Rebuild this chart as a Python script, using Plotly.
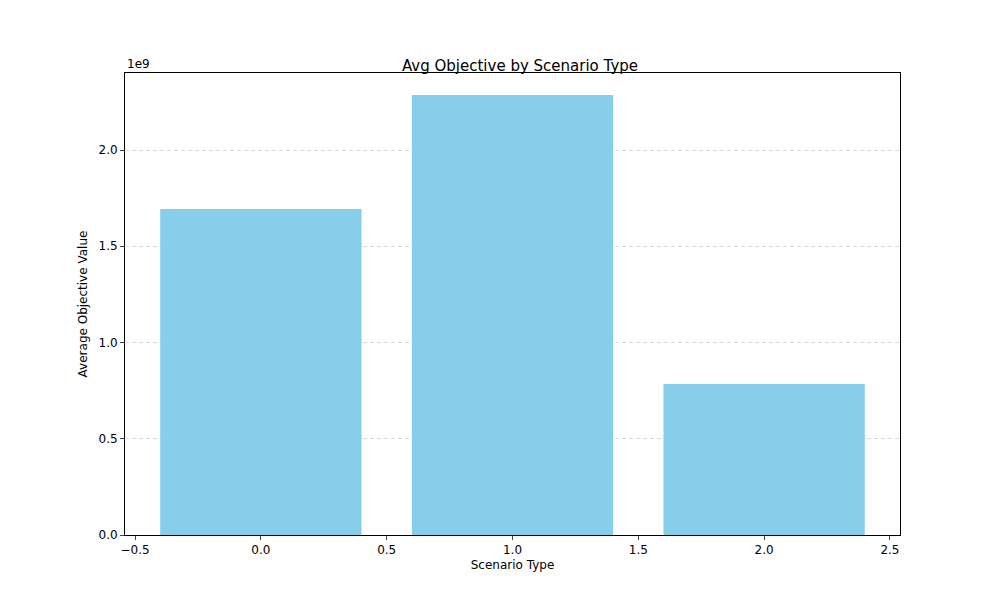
import plotly.graph_objects as go

scenario_types = [0, 1, 2]
avg_objective = [1.694e9, 2.286e9, 0.784e9]
y_ticks = [0, 0.5e9, 1.0e9, 1.5e9, 2.0e9]
y_tick_labels = ["0.0", "0.5", "1.0", "1.5", "2.0"]
x_ticks = [-0.5, 0, 0.5, 1, 1.5, 2, 2.5]
x_tick_labels = ["−0.5", "0.0", "0.5", "1.0", "1.5", "2.0", "2.5"]

fig = go.Figure()
fig.add_trace(go.Bar(x=scenario_types, y=avg_objective, width=0.8,
                     marker=dict(color="skyblue", line=dict(width=0))))

fig.update_layout(
    width=1000, height=600,
    margin=dict(l=117, r=108, t=65, b=73),
    plot_bgcolor="white", paper_bgcolor="white",
    font=dict(family="DejaVu Sans", size=12, color="black"),
    title=dict(text="Avg Objective by Scenario Type", x=0.512, xanchor="center",
               y=1 - 58 / 600, yanchor="middle", font=dict(size=15)),
    showlegend=False,
    xaxis=dict(range=[-0.54, 2.54], tickvals=x_ticks, ticktext=x_tick_labels,
               showgrid=False, zeroline=False, showline=True, linecolor="black",
               mirror=True, ticks="outside", ticklen=4,
               title=dict(text="Scenario Type", standoff=4, font=dict(size=12))),
    yaxis=dict(range=[0, 2.4e9], tickvals=y_ticks, ticktext=y_tick_labels,
               showgrid=True, gridcolor="#d8d8d8", griddash="4px,3px",
               zeroline=False, showline=True, linecolor="black", mirror=True,
               ticks="outside", ticklen=4,
               title=dict(text="Average Objective Value", standoff=8, font=dict(size=12))),
)
fig.add_annotation(text="1e9", xref="paper", yref="paper", x=0, y=1,
                   xanchor="left", yanchor="bottom", showarrow=False,
                   font=dict(size=12))

fig.write_html("out.html")
